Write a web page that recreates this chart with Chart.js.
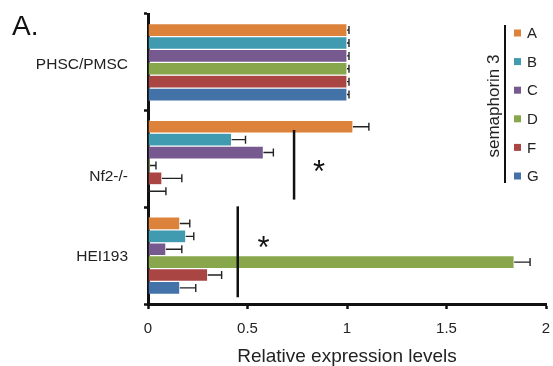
<!DOCTYPE html>
<html>
<head>
<meta charset="utf-8">
<script src="https://cdn.jsdelivr.net/npm/chart.js@4/dist/chart.umd.min.js"></script>
<style>
	html, body { margin: 0; padding: 0; background: #fff; }
	#wrap { width: 553px; height: 366px; }
</style>
</head>
<body>
<div id="wrap"><canvas id="exprChart"></canvas></div>
<script>
'use strict';

// 카테고리 / 시리즈
const categories = ['PHSC/PMSC', 'Nf2-/-', 'HEI193'];
const seriesNames = ['A', 'B', 'C', 'D', 'F', 'G'];
const seriesColors = ['#DD823A', '#409AB0', '#765A8F', '#88A64C', '#A94644', '#4372A8'];

// 값 (카테고리 순서)
const valuesA = [1.00, 1.03, 0.16];
const valuesB = [1.00, 0.42, 0.19];
const valuesC = [1.00, 0.58, 0.09];
const valuesD = [1.00, 0.01, 1.84];
const valuesF = [1.00, 0.07, 0.30];
const valuesG = [1.00, 0.00, 0.16];

// 오차 (표준편차)
const errorsA = [0.01, 0.08, 0.05];
const errorsB = [0.01, 0.07, 0.04];
const errorsC = [0.01, 0.05, 0.08];
const errorsD = [0.01, 0.03, 0.08];
const errorsF = [0.01, 0.10, 0.07];
const errorsG = [0.01, 0.09, 0.08];

// 유의성 표시선 (x 값)
const sigLineValues = [null, 0.734, 0.451];

// x축 눈금
const xTicks = [0, 0.5, 1, 1.5, 2];

const allValues = [valuesA, valuesB, valuesC, valuesD, valuesF, valuesG];
const allErrors = [errorsA, errorsB, errorsC, errorsD, errorsF, errorsG];

const FONT = '"Liberation Sans", Arial, sans-serif';

// 오차 막대, 라벨, 범례 그리기
const decorPlugin = {
	id: 'decor',
	afterDatasetsDraw(chart) {
		const ctx = chart.ctx;
		const xs = chart.scales.x;
		const ys = chart.scales.y;
		const step = ys.getPixelForValue(1) - ys.getPixelForValue(0);

		// 오차 막대
		ctx.save();
		ctx.strokeStyle = '#222';
		ctx.lineWidth = 1.4;
		chart.data.datasets.forEach((ds, di) => {
			const meta = chart.getDatasetMeta(di);
			meta.data.forEach((bar, i) => {
				const v = ds.data[i];
				const e = allErrors[di][i];
				const x0 = xs.getPixelForValue(v);
				const x1 = xs.getPixelForValue(v + e);
				const y = bar.y;
				ctx.beginPath();
				ctx.moveTo(x0, y);
				ctx.lineTo(x1, y);
				ctx.moveTo(x1, y - 4);
				ctx.lineTo(x1, y + 4);
				ctx.stroke();
			});
		});
		ctx.restore();

		// 유의성 선과 별표
		const sigSpan = [null, [-0.3, 0.42], [-0.51, 0.43]];
		const starPos = [null, [0.86, 0.08], [0.58, -0.14]];
		ctx.save();
		ctx.strokeStyle = '#111';
		ctx.fillStyle = '#111';
		ctx.lineWidth = 2.5;
		sigLineValues.forEach((v, i) => {
			if (v === null) return;
			const cy = ys.getPixelForValue(i);
			const x = xs.getPixelForValue(v);
			ctx.beginPath();
			ctx.moveTo(x, cy + sigSpan[i][0] * step);
			ctx.lineTo(x, cy + sigSpan[i][1] * step);
			ctx.stroke();
			ctx.font = '31px ' + FONT;
			ctx.textAlign = 'center';
			ctx.textBaseline = 'middle';
			ctx.fillText('*', xs.getPixelForValue(starPos[i][0]), cy + starPos[i][1] * step + 7);
		});
		ctx.restore();

		// y축 카테고리 라벨
		const labelShift = [2, 18, 1];
		ctx.save();
		ctx.fillStyle = '#222';
		ctx.font = '15.5px ' + FONT;
		ctx.textAlign = 'right';
		ctx.textBaseline = 'middle';
		categories.forEach((c, i) => {
			ctx.fillText(c, 128, ys.getPixelForValue(i) + labelShift[i]);
		});
		ctx.restore();

		// 패널 라벨
		ctx.save();
		ctx.fillStyle = '#111';
		ctx.font = '28px ' + FONT;
		ctx.textAlign = 'left';
		ctx.textBaseline = 'middle';
		ctx.fillText('A.', 12, 27);
		ctx.restore();

		// 범례
		ctx.save();
		ctx.strokeStyle = '#111';
		ctx.lineWidth = 2;
		ctx.beginPath();
		ctx.moveTo(505, 25);
		ctx.lineTo(505, 183);
		ctx.stroke();
		ctx.font = '15px ' + FONT;
		ctx.textBaseline = 'middle';
		ctx.textAlign = 'left';
		seriesNames.forEach((name, i) => {
			const y = 33 + i * 28.6;
			ctx.fillStyle = seriesColors[i];
			ctx.fillRect(514, y - 3.5, 7, 7);
			ctx.fillStyle = '#222';
			ctx.fillText(name, 527, y + 1);
		});
		ctx.translate(494, 106);
		ctx.rotate(-Math.PI / 2);
		ctx.textAlign = 'center';
		ctx.font = '17px ' + FONT;
		ctx.fillText('semaphorin 3', 0, 0);
		ctx.restore();
	}
};

function initExprChart() {
	const canvas = document.getElementById('exprChart');
	if (!canvas) return;

	const datasets = seriesNames.map((name, i) => ({
		label: name,
		data: allValues[i],
		backgroundColor: seriesColors[i],
		borderColor: 'rgba(255,255,255,0.6)',
		borderWidth: 0.6,
		categoryPercentage: 0.8,
		barPercentage: 1.0
	}));

	new Chart(canvas, {
		type: 'bar',
		data: {
			labels: categories,
			datasets: datasets
		},
		options: {
			indexAxis: 'y',
			responsive: false,
			animation: false,
			layout: {
				padding: { top: 14, right: 7, left: 0, bottom: 0 }
			},
			plugins: {
				legend: { display: false },
				title: { display: false },
				tooltip: { enabled: false }
			},
			scales: {
				x: {
					min: 0,
					max: 2,
					afterBuildTicks: (scale) => {
						scale.ticks = xTicks.map(v => ({ value: v }));
					},
					ticks: {
						color: '#222',
						font: { family: FONT, size: 15 },
						padding: 11,
						maxRotation: 0,
						callback: (v) => String(v)
					},
					grid: {
						drawOnChartArea: false,
						drawTicks: true,
						tickLength: 5,
						tickWidth: 2.5,
						tickColor: '#111'
					},
					border: { color: '#111', width: 3 },
					title: {
						display: true,
						text: 'Relative expression levels',
						color: '#222',
						font: { family: FONT, size: 19, lineHeight: 1.0 },
						padding: { top: 6, bottom: 0 }
					},
					afterFit: (scale) => {
						scale.height = 62;
						scale.paddingLeft = 0;
						scale.paddingRight = 0;
					}
				},
				y: {
					offset: true,
					ticks: { display: false },
					grid: {
						offset: true,
						drawOnChartArea: false,
						drawTicks: true,
						tickLength: 4,
						tickWidth: 2.5,
						tickColor: '#111'
					},
					border: { color: '#111', width: 3 },
					afterFit: (scale) => {
						scale.width = 148;
						scale.paddingTop = 0;
						scale.paddingBottom = 0;
					}
				}
			}
		},
		plugins: [decorPlugin]
	});
}

const cv = document.getElementById('exprChart');
cv.width = 553;
cv.height = 366;
initExprChart();
</script>
</body>
</html>
